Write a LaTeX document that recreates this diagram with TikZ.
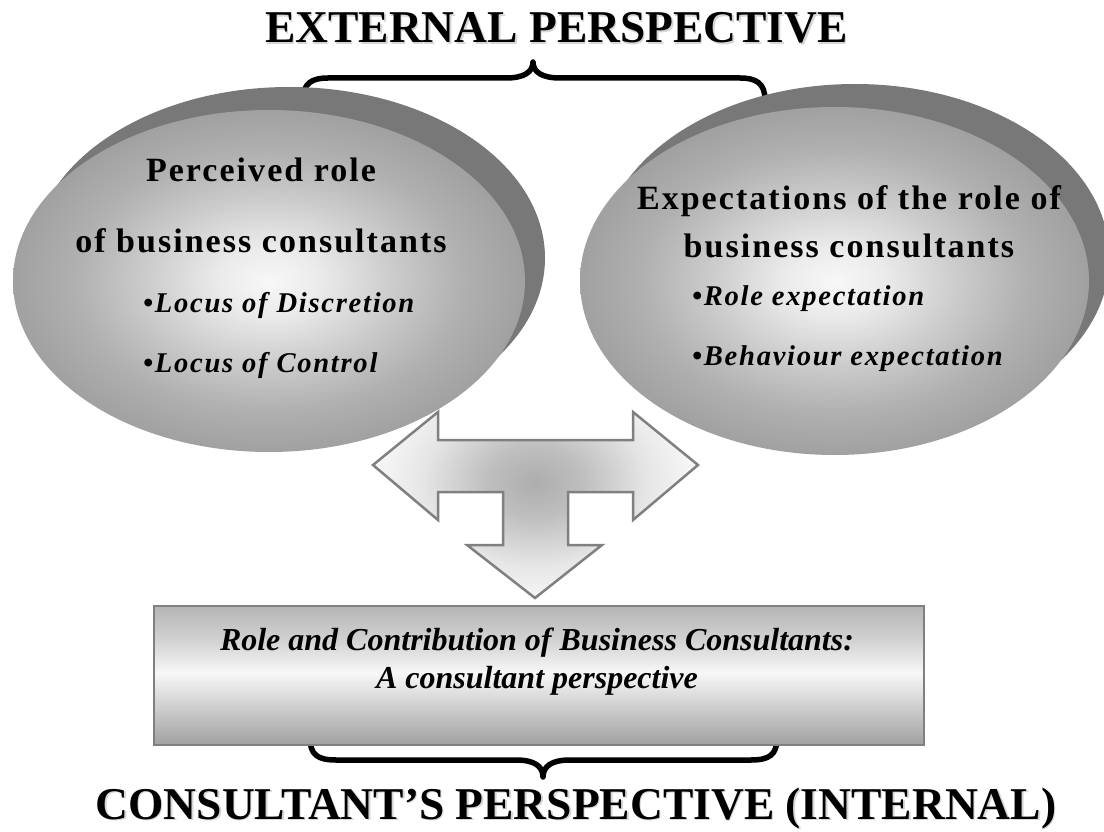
\documentclass[tikz,border=0pt]{standalone}
\usepackage{fontspec}
\setmainfont{Liberation Serif}
\newfontfamily\spacedfont[LetterSpace=6]{Liberation Serif}
\usetikzlibrary{shapes.geometric}
\definecolor{ellC0}{gray}{0.97}
\definecolor{ellC1}{gray}{0.92}
\definecolor{ellC2}{gray}{0.80}
\definecolor{ellC3}{gray}{0.69}
\definecolor{ellC4}{gray}{0.63}
\definecolor{shadowgray}{gray}{0.47}
\definecolor{boxtop}{gray}{0.71}
\definecolor{boxmidA}{gray}{0.82}
\definecolor{boxmid}{gray}{0.97}
\definecolor{boxmidB}{gray}{0.80}
\definecolor{boxbot}{gray}{0.63}
\definecolor{boxborder}{gray}{0.50}
\definecolor{arrC0}{gray}{0.68}
\definecolor{arrC1}{gray}{0.75}
\definecolor{arrC2}{gray}{0.90}
\definecolor{arrC3}{gray}{0.99}
\definecolor{arrborder}{gray}{0.50}
\definecolor{txtshadow}{gray}{0.84}
\pgfdeclareradialshading{ellshade}{\pgfpointorigin}{color(0bp)=(ellC0); color(5bp)=(ellC1); color(12bp)=(ellC2); color(19bp)=(ellC3); color(25bp)=(ellC4); color(50bp)=(ellC4)}
\pgfdeclareverticalshading{boxshade}{100bp}{color(0bp)=(boxbot); color(25bp)=(boxbot); color(38bp)=(boxmidB); color(51bp)=(boxmid); color(63bp)=(boxmidA); color(75bp)=(boxtop); color(100bp)=(boxtop)}
\pgfdeclareradialshading{arrshade}{\pgfpointorigin}{color(0bp)=(arrC0); color(7bp)=(arrC1); color(16bp)=(arrC2); color(25bp)=(arrC3); color(50bp)=(arrC3)}
\begin{document}
\begin{tikzpicture}[x=1pt,y=-1pt,
  ellshadow/.style={ellipse, inner sep=0pt, fill=shadowgray},
  ellmain/.style={ellipse, inner sep=0pt, shade, shading=ellshade},
  headtext/.style={font=\spacedfont\bfseries\fontsize{34}{40}\selectfont, anchor=base, inner sep=0pt},
  bullettext/.style={font=\spacedfont\bfseries\itshape\fontsize{28.6}{32}\selectfont, anchor=base west, inner sep=0pt},
  titletext/.style={font=\bfseries\fontsize{45.5}{50}\selectfont, anchor=base, inner sep=0pt},
  boxtext/.style={font=\bfseries\itshape\fontsize{32}{36}\selectfont, anchor=base, inner sep=0pt},
  bracestyle/.style={line width=5.5pt, line cap=round, line join=round},
]
\useasboundingbox (0,0) rectangle (1104,832);
\clip (0,0) rectangle (1104,832);
\fill[white] (0,0) rectangle (1104,832);

% top title
\node[titletext, txtshadow] (extsh) at (558,44.5) {EXTERNAL PERSPECTIVE};
\node[titletext] (ext) at (556.5,43) {EXTERNAL PERSPECTIVE};

% top brace
\draw[bracestyle] (303,100) .. controls (303,83) and (312,78) .. (328,78) -- (506,78)
  .. controls (524,78) and (533,72) .. (533,62)
  .. controls (533,72) and (542,78) .. (560,78) -- (740,78)
  .. controls (756,78) and (765,83) .. (765,100);

% ellipses
\node[ellshadow, minimum width=512pt, minimum height=342pt] (percsh) at (289,258) {};
\node[ellshadow, minimum width=509pt, minimum height=348pt] (expsh) at (855,258) {};
\node[ellmain, minimum width=512pt, minimum height=342pt] (perc) at (269,281) {};
\node[ellmain, minimum width=509pt, minimum height=348pt] (expc) at (834.5,281) {};

\node[headtext] (p1) at (261,182) {Perceived role};
\node[headtext] (p2) at (261,252) {of business consultants};
\node[bullettext] (p3) at (143,312) {•Locus of Discretion};
\node[bullettext] (p4) at (143,372) {•Locus of Control};

\node[headtext] (e1) at (849,210) {Expectations of the role of};
\node[headtext] (e2) at (849,257) {business consultants};
\node[bullettext] (e3) at (692,305) {•Role expectation};
\node[bullettext] (e4) at (692,365) {•Behaviour expectation};

% T-arrow
\begin{scope}
\clip (373,465) -- (438,412) -- (438,440) -- (633,440) -- (633,412) -- (698,465) -- (633,520) -- (633,492) -- (568,492) -- (568,545) -- (602,545) -- (535,598) -- (467,545) -- (503,545) -- (503,492) -- (438,492) -- (438,520) -- cycle;
\fill[arrC3] (360,400) rectangle (710,610);
\shade[shading=arrshade] (535,482) ellipse (175 and 130);
\end{scope}
\draw[arrborder, line width=2.5pt, line join=miter] (373,465) -- (438,412) -- (438,440) -- (633,440) -- (633,412) -- (698,465) -- (633,520) -- (633,492) -- (568,492) -- (568,545) -- (602,545) -- (535,598) -- (467,545) -- (503,545) -- (503,492) -- (438,492) -- (438,520) -- cycle;

% bottom brace
\draw[bracestyle] (310,738) .. controls (310,755) and (318,760) .. (336,760) -- (516,760)
  .. controls (534,760) and (543,766) .. (543,777)
  .. controls (543,766) and (552,760) .. (570,760) -- (751,760)
  .. controls (769,760) and (777,755) .. (777,738);

% box
\node[draw=boxborder, line width=2.5pt, shade, shading=boxshade, minimum width=770pt, minimum height=139pt, inner sep=0pt] (box) at (539,675.5) {};
\node[boxtext] (b1) at (537,650) {Role and Contribution of Business Consultants:};
\node[boxtext] (b2) at (537,688) {A consultant perspective};

% bottom title
\node[titletext, txtshadow] (intsh) at (577.5,820.5) {CONSULTANT’S PERSPECTIVE (INTERNAL)};
\node[titletext] (int) at (576,819) {CONSULTANT’S PERSPECTIVE (INTERNAL)};
\end{tikzpicture}
\end{document}
